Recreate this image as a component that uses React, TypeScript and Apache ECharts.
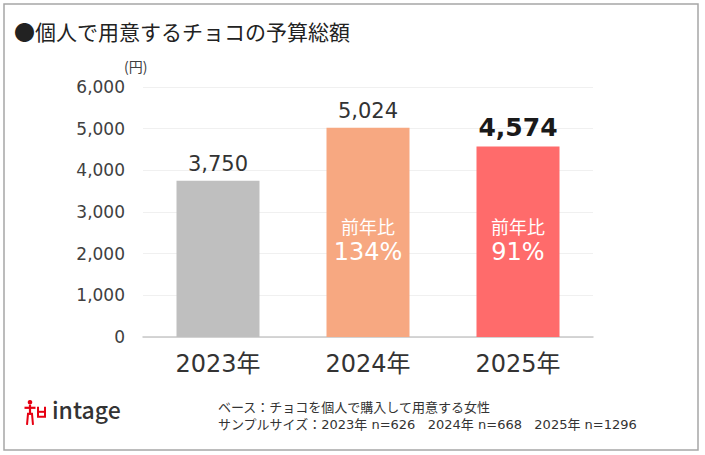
import { useEffect, useRef } from "react";
import * as echarts from "echarts";

const categories = ["2023年", "2024年", "2025年"];
const budgetValues = [3750, 5024, 4574];
const barColors = ["#BFBFBF", "#F7A881", "#FF6B6B"];
const yoyLabels = ["", "134%", "91%"];

const FONT = '"Noto Sans CJK JP", "Noto Sans", sans-serif';
// wide latin digits like the original, CJK falls back to Noto
const NUM_FONT = '"DejaVu Sans", "Noto Sans CJK JP", sans-serif';

export default function App() {
  const chartRef = useRef<HTMLDivElement>(null);

  useEffect(() => {
    document.body.style.margin = "0";
    if (!chartRef.current) return;
    const chart = echarts.init(chartRef.current, null, { renderer: "svg" });

    const option: echarts.EChartsOption = {
      animation: false,
      backgroundColor: "#ffffff",
      textStyle: { fontFamily: FONT },
      grid: { left: 143, right: 112, top: 87, bottom: 118 },
      xAxis: {
        type: "category",
        data: categories,
        axisTick: { show: false },
        axisLine: { lineStyle: { color: "#C8C8C8", width: 1.5 } },
        axisLabel: { color: "#333333", fontSize: 24, margin: 15, fontFamily: NUM_FONT },
      },
      yAxis: {
        type: "value",
        min: 0,
        max: 6000,
        interval: 1000,
        axisLine: { show: false },
        axisTick: { show: false },
        splitLine: { lineStyle: { color: "#F0F0F0", width: 1 } },
        axisLabel: {
          color: "#404040",
          fontSize: 17,
          margin: 18,
          fontFamily: NUM_FONT,
          formatter: (v: number) => v.toLocaleString("en-US"),
        },
      },
      series: [
        {
          type: "bar",
          barWidth: 83,
          data: budgetValues.map((v, i) => ({
            value: v,
            itemStyle: { color: barColors[i] },
            label:
              i === budgetValues.length - 1
                ? { fontSize: 25, fontWeight: "bold", color: "#1a1a1a" }
                : { fontSize: 21, color: "#333333" },
          })),
          label: {
            show: true,
            position: "top",
            distance: 6,
            fontFamily: NUM_FONT,
            formatter: (p: any) => Number(p.value).toLocaleString("en-US"),
          },
        },
        {
          type: "bar",
          barWidth: 83,
          barGap: "-100%",
          silent: true,
          itemStyle: { color: "transparent" },
          data: budgetValues.map((v, i) => ({
            value: v,
            label: { show: yoyLabels[i] !== "" },
          })),
          label: {
            position: "insideBottom",
            distance: 71,
            formatter: (p: any) => `{a|前年比}\n{b|${yoyLabels[p.dataIndex]}}`,
            rich: {
              a: { fontSize: 18, color: "#ffffff", fontFamily: FONT, lineHeight: 24 },
              b: { fontSize: 24, color: "#ffffff", fontFamily: NUM_FONT, lineHeight: 28 },
            },
          },
        },
      ],
      graphic: [
        {
          type: "rect",
          shape: { x: 4, y: 4, width: 694, height: 446 },
          style: { fill: "none", stroke: "#A6A6A6", lineWidth: 1.5 },
          silent: true,
        },
        {
          type: "text",
          left: 14,
          top: 20,
          style: {
            text: "●個人で用意するチョコの予算総額",
            fontSize: 21,
            fill: "#222222",
            fontFamily: FONT,
          },
        },
        {
          type: "text",
          left: 124,
          top: 59,
          style: { text: "(円)", fontSize: 14, fill: "#404040", fontFamily: FONT },
        },
        {
          type: "text",
          left: 218,
          top: 399,
          style: {
            text: "ベース：チョコを個人で購入して用意する女性\nサンプルサイズ：2023年 n=626   2024年 n=668   2025年 n=1296",
            fontSize: 13,
            lineHeight: 17,
            fill: "#333333",
            fontFamily: NUM_FONT,
          },
        },
        {
          type: "group",
          left: 22,
          top: 400,
          children: [
            { type: "circle", shape: { cx: 6, cy: 2.5, r: 2.3 }, style: { fill: "#E60012" } },
            { type: "line", shape: { x1: 0.5, y1: 8, x2: 11.5, y2: 8 }, style: { stroke: "#E60012", lineWidth: 2.2 } },
            { type: "line", shape: { x1: 6, y1: 5, x2: 6, y2: 15 }, style: { stroke: "#E60012", lineWidth: 2.2 } },
            { type: "polyline", shape: { points: [[3, 25], [4, 14], [8, 14], [9, 25]] }, style: { stroke: "#E60012", fill: "none", lineWidth: 2 } },
            { type: "polyline", shape: { points: [[14, 7], [14, 17], [21, 17], [21, 7]] }, style: { stroke: "#E60012", fill: "none", lineWidth: 2 } },
            { type: "line", shape: { x1: 14, y1: 12, x2: 21, y2: 12 }, style: { stroke: "#E60012", lineWidth: 2 } },
          ],
        },
        {
          type: "text",
          left: 52,
          top: 397,
          style: { text: "intage", fontSize: 23, fill: "#333333", fontFamily: FONT, fontWeight: 500 },
        },
      ],
    };

    chart.setOption(option);
    return () => chart.dispose();
  }, []);

  return (
    <div
      ref={chartRef}
      style={{ position: "absolute", left: 0, top: 0, width: 705, height: 455 }}
    />
  );
}
